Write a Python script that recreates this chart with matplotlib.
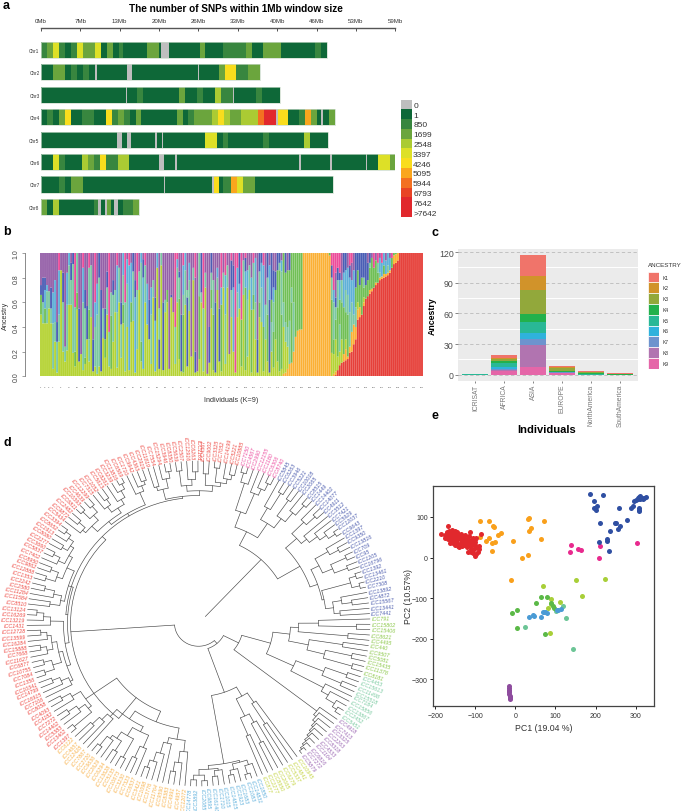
import re
import numpy as np
import matplotlib
matplotlib.use('Agg')
import matplotlib.pyplot as plt

plt.rcParams['font.family'] = ['Liberation Sans', 'DejaVu Sans']
plt.rcParams['axes.unicode_minus'] = True

W, H = 685, 812

# ---- panel a: SNP density per chromosome, runs of (colour class, length in Mb)
SNP_CLASSES = ['0', '1', '850', '1699', '2548', '3397', '4246', '5095', '5944', '6793', '7642', '>7642']
SNP_COLORS = ['#BEBEBE', '#0E6838', '#38863F', '#6BA53D', '#ABCB33', '#DDE027',
              '#F9DD1D', '#FAA61D', '#F37021', '#E84425', '#E1282D', '#E1282D']
CHR_NAMES = ['Chr1', 'Chr2', 'Chr3', 'Chr4', 'Chr5', 'Chr6', 'Chr7', 'Chr8']
MB_TICKS = [0, 6.56, 13.11, 19.67, 26.22, 32.78, 39.33, 45.89, 52.44, 59]
MB_LABELS = ['0Mb', '7Mb', '13Mb', '20Mb', '26Mb', '33Mb', '40Mb', '46Mb', '53Mb', '59Mb']

chr1 = [(2, 1), (3, 1), (5, 1), (2, 1), (1, 1), (2, 1), (5, 1), (3, 2), (5, 1), (1, 1), (3, 1), (1, 1), (2, .7),
        (1, 3.9), (3, 2), (1, .4), (0, 1.3), (1, 5.1), (3, .9), (1, 3), (2, 2), (2, 1.9), (3, .9), (1, 1.9), (3, 2.9), (1, 5.8), (2, 1), (1, 1)]
chr2 = [(1, 2), (3, 2), (1, 1), (2, 1), (1, 1), (2, 1), (1, 1), (0, .3), (1, 5), (0, .8), (1, 11.1), (0, .15), (1, 3.3),
        (3, 1), (6, 1.9), (2, 2), (3, 2)]
chr3 = [(1, 14.2), (0, .2), (1, 1.6), (2, 1), (1, 5.9), (3, 1), (1, 2), (2, 1), (1, 2), (4, 1), (2, 2), (0, .25), (1, 3.6),
        (2, 1), (1, 3)]
chr4 = [(1, 1), (2, 1), (1, 1), (3, 1), (6, 1), (1, 1.9), (2, 2), (1, 1.9), (6, 1), (2, 1), (3, 1), (2, 1), (1, 1), (3, .9),
        (1, 5.9), (3, 1), (1, .9), (2, 1), (3, 2.9), (4, 1), (6, 1), (4, 1), (3, .9), (3, 1), (4, 1), (4, 1.9), (8, 1), (10, 2),
        (0, .3), (6, 1.6), (1, 1.9), (2, 1), (7, 1), (3, 1), (1, .7), (0, .3), (1, 1), (3, 1)]
chr5 = [(1, 12.7), (0, .8), (1, .9), (0, .6), (1, 4), (0, .3), (1, .8), (0, .15), (1, 7.1), (5, 1.9), (1, 1), (2, .9),
        (1, 5.8), (2, 1), (1, 5.9), (4, .9), (1, 3.1)]
chr6 = [(1, 1.5), (1, .5), (5, 1), (2, 1), (1, 2.9), (4, 1), (3, 1), (2, 1), (6, 1), (2, 1.9), (4, 1.9), (1, 5), (0, .7),
        (1, 1.9), (0, .3), (1, 20.3), (0, .4), (1, 4.8), (0, .3), (1, 5.7), (0, .15), (1, 1.9), (5, 1.9), (3, 1.1)]
chr7 = [(1, 3), (2, 1), (1, 1), (3, 2), (1, 13.4), (0, .3), (1, 7.8), (0, .3), (6, .9), (1, .6), (2, 1.4), (7, 1), (5, 1),
        (3, 1.9), (1, 13)]
chr8 = [(3, 1), (1, 1), (4, 1), (1, 5.8), (2, .7), (0, .5), (1, .7), (0, .3), (3, .6), (1, .5), (0, .7), (1, .8), (2, 1.8), (3, 1)]
CHR_RUNS = [chr1, chr2, chr3, chr4, chr5, chr6, chr7, chr8]

# ---- panel b: ancestry per individual, letter = cluster, number = top of the segment in %
CLUSTER_COLORS = {'R': '#E6403A', 'O': '#FBB034', 'Y': '#B5D334', 'G': '#70BF55', 'T': '#7CC8A2',
                  'S': '#5FB0D8', 'N': '#4A5EB5', 'P': '#9560A8', 'M': '#EC4C9A'}
bars_mixed_a = [
    'Y50 G66 N74 P100', 'Y43 T60 N80 P100', 'Y43 G55 S70 N80 P100', 'Y43 T69 S74 P100', 'Y55 T69 P100',
    'Y43 T55 N72 P100', 'Y6 T43 S68 P100', 'Y28 T44 S78 P100', 'Y3 T28 N44 P100', 'Y28 T50 S86 M100',
    'Y86 P100', 'Y20 T60 N84 P100', 'Y12 T24 P100', 'Y21 T58 S84 P100', 'Y58 T90 S100',
    'Y58 T78 N92 P100', 'Y19 T91 N100', 'Y8 G20 T56 M100', 'Y54 G68 T100', 'Y12 N55 P100',
    'Y18 P100', 'Y5 T60 S88 M100', 'Y10 G15 T55 N70 P100', 'Y30 N57 P100', 'Y12 T30 G54 T88 M100',
    'Y48 T90 P100', 'Y4 N30 P100', 'Y8 T40 S60 M100', 'Y2 T50 S75 P100', 'Y8 T80 N100',
    'Y4 N70 P100', 'Y31 T55 P100', 'Y15 G30 N55 P100', 'Y50 T72 N85 P100', 'Y8 T36 M100',
    'Y6 G49 T68 P100', 'Y28 T66 N78 P100', 'Y52 T70 P100', 'Y7 T52 S90 M100', 'Y60 T88 P100',
    'Y15 T42 N60 P100', 'Y43 G58 T82 S100', 'Y4 T60 M100', 'Y40 T75 S95 P100', 'Y5 S90 M100',
    'Y44 G60 S92 P100', 'Y45 T85 N100', 'Y3 S64 N78 P100', 'Y22 T70 M100', 'Y70 T85 P100',
    'Y12 G28 T92 S100', 'Y6 S80 N95 P100', 'Y60 T90 M100', 'Y42 S75 P100', 'Y30 N62 P100',
    'Y10 T50 S72 P100', 'Y64 T78 P100', 'Y4 S45 N64 P100', 'Y88 S100', 'Y6 N30 T55 P100',
    'Y90 T100', 'Y5 N60 P100', 'Y52 T62 P100', 'Y60 G70 P100']
bars_mixed_b = [
    'Y6 P100', 'Y64 N66 P100', 'Y52 P100', 'Y10 T40 M100', 'Y60 T88 S95 M100',
    'Y14 G63 T80 N85 P100', 'Y4 N50 P100', 'Y3 G50 T66 S90 M100', 'Y58 T86 S100', 'Y8 N64 T70 P100',
    'Y53 T78 S92 P100', 'Y16 P100', 'Y78 T88 P100', 'Y3 N20 P80 M100', 'Y4 P100',
    'Y14 G65 T100', 'Y60 T68 N100', 'Y4 T55 M100', 'Y72 T84 P100', 'Y2 P100',
    'Y11 N40 P100', 'Y55 G70 T84 N100', 'Y5 G50 T78 P100', 'Y3 N60 P100', 'Y70 T80 S88 P100',
    'Y12 N55 P100', 'Y4 G58 S72 M100', 'Y72 T84 P100', 'Y10 T50 S82 M100', 'Y72 T90 P100',
    'Y18 P100', 'Y48 T70 N94 M100', 'Y20 S72 N90 P100', 'Y3 M100', 'Y48 T68 S88 M100',
    'Y55 S75 N100', 'Y8 G46 M100', 'Y66 T94 P100', 'Y5 G72 S85 N96 M100', 'Y16 T62 S86 P100',
    'Y70 T90 P100', 'Y3 G54 S80 P100', 'Y54 G66 T92 M100', 'Y30 T60 S96 P100', 'Y3 N30 P100',
    'Y48 G60 T85 N100', 'Y44 T72 S92 N100', 'Y4 G40 S90 M100', 'Y30 T58 P100', 'Y12 G50 T80 N100',
    'Y3 N62 S90 P100', 'Y20 T44 G62 N100', 'Y7 G36 T60 S72 N86 P100', 'Y30 G70 N85 P100', 'Y12 G86 N100',
    'Y4 G86 T92 N100', 'Y6 G50 T85 S94 P100', 'O2 Y40 T60 G100']
bars_orange = [
    'O3 Y28 T44 G84 N100', 'O6 Y24 T40 G86 P100', 'O10 T45 G86 N100', 'O11 G60 T72 G100', 'O20 T60 G100',
    'O32 G100', 'O37 G100', 'O38 G100', 'O38 G100', 'O100', 'O100', 'O100', 'O100', 'O100', 'O100', 'O100',
    'O100', 'O100', 'O100', 'O100', 'O100', 'O100', 'O98 G100', 'Y19 G62 T80 N90 M100', 'O2 Y18 G30 T60 S70 M100']
bars_red_rise = [
    'R1 O4 Y30 G46 T56 N64 P84 M100', 'R5 Y16 G56 T78 N88 M100', 'R9 Y20 T42 G62 S78 N84 M100', 'R11 Y30 G60 T78 P100', 'R12 O18 G56 S84 N100',
    'R13 O22 Y30 G52 T70 S86 N100', 'R14 O16 G50 T66 S88 P100', 'R19 O24 T52 S80 N90 M100', 'R20 O36 T60 S78 P92 M100', 'R26 O42 T50 S86 P100',
    'R30 O40 T56 G72 N100', 'R46 O54 Y60 G86 N100', 'R48 O56 G74 N100', 'R50 G80 N100', 'R57 O60 Y64 G72 T80 N100',
    'R63 G74 N100', 'R65 G78 N92 P100', 'R67 O70 G88 T92 N100', 'R69 O71 G96 P100', 'R72 G88 M100',
    'R74 O76 G94 P100', 'R76 G84 T92 M100', 'R78 O80 T84 S96 P100', 'R79 O81 S92 M100', 'R80 O83 G90 S100',
    'R81 O83 S94 P100', 'R82 O84 T90 S100', 'R84 O86 S96 P100', 'R88 G96 M100', 'R91 O98 G100', 'R92 O99 G100', 'R94 O100']
bars_red_full = ['R100'] * 12
ANCESTRY_ROWS = bars_mixed_a + bars_mixed_b + bars_orange + bars_red_rise + bars_red_full
INDIVIDUAL_IDS = [1, 3, 5, 7, 11, 15, 19, 23, 27, 31, 35, 39, 43, 47, 51, 55, 59, 63, 67, 71, 75, 79, 83, 87, 91, 95, 99, 103,
                  107, 111, 115, 119, 123, 127, 131, 135, 139, 143, 147, 151, 155, 159, 163, 167, 171, 175, 179, 183, 187, 191]

# ---- panel c: counts per region
REGIONS = ['ICRISAT', 'AFRICA', 'ASIA', 'EUROPE', 'NorthAmerica', 'SouthAmerica']
K_NAMES = ['K1', 'K2', 'K3', 'K4', 'K5', 'K6', 'K7', 'K8', 'K9']
K_COLORS = ['#F0746A', '#D1932A', '#92A83B', '#22B14C', '#29B896', '#2FB2DC', '#6D93CE', '#B174B0', '#E566A8']
k1 = [0, 3, 21, 1, 1, .6]
k2 = [0, .5, 13.6, .5, 0, 0]
k3 = [0, 2.5, 22.9, 3, 1, .5]
k4 = [0, 1.5, 8, 1, 1, .5]
k5 = [1, 4, 10.6, .5, .5, 0]
k6 = [0, 2, 6, 0, 0, 0]
k7 = [0, 1, 6, .5, 0, 0]
k8 = [0, 1, 21.2, .5, 0, 0]
k9 = [0, 3.5, 7.8, 1.5, 0, 0]
K_VALUES = [k1, k2, k3, k4, k5, k6, k7, k8, k9]

# ---- panel d: labels clockwise per group and tree as (child child)height
labels_green = ['ICC791', 'ICC15802', 'ICC15406', 'ICC8621', 'ICC4495', 'ICC440', 'ICC9507', 'ICC5081', 'ICC15435', 'ICC11378', 'ICC8181']
labels_teal = ['ICC4453', 'ICC15613', 'ICC11498', 'ICC15518', 'ICC7184', 'ICC15856', 'ICC13867', 'ICC2452', 'ICC5451']
labels_purple = ['ICC4918', 'ICC7413', 'ICC3325', 'ICC2263', 'ICC8318', 'ICC4533', 'ICC1164', 'ICC6816', 'ICC7272', 'ICC5879']
labels_yellow = ['ICC10945', 'ICC4841', 'ICC5337', 'ICC6279', 'ICC2065', 'ICC8950', 'ICC2277', 'ICC877']
labels_sky = ['ICC1850', 'ICC14831', 'ICC1083', 'ICC1683', 'ICC1923', 'ICC14815', 'ICC1015', 'ICC1710', 'ICC16140',
              'ICC9895', 'ICC2085', 'ICC3892', 'ICC14778']
labels_orange = ['ICC12072', 'ICC4957', 'ICC4991', 'ICC8383', 'ICC9590', 'ICC11764', 'ICC3776', 'ICC1098', 'ICC3421', 'ICC6537',
                 'ICC7323', 'ICC3230', 'ICC10673', 'ICC5135', 'ICC13628', 'ICC6294', 'ICC2629', 'ICC9636', 'ICC2720', 'ICC7867',
                 'ICC12428', 'ICC4657', 'ICC6122']
labels_red = ['ICC1397', 'ICC13402', 'ICC5383', 'ICC14402', 'ICC7272', 'ICC4182', 'ICC4093', 'ICC8058', 'ICC7106', 'ICC16915',
              'ICC14799', 'ICC10341', 'ICC1356', 'ICC7084', 'ICC10755', 'ICC6877', 'ICC11627', 'ICC7668', 'ICC15888', 'ICC16284',
              'ICC13599', 'ICC12728', 'ICC1431', 'ICC13219', 'ICC16269', 'ICC13124', 'ICC8510', 'ICC11584', 'ICC11284', 'ICC2580',
              'ICC2242', 'ICC1353', 'ICC12888', 'ICC9862', 'ICC8950', 'ICC7402', 'ICC5837', 'ICC3660', 'ICC2277', 'ICC8080',
              'ICC1913', 'ICC8652', 'ICC3394', 'ICC5434', 'ICC9872', 'ICC2482', 'ICC6811', 'ICC10393', 'ICC4639', 'ICC12299',
              'ICC7315', 'ICC1052', 'ICC5613', 'ICC8261', 'ICC3239', 'ICC13816', 'ICC6569', 'ICC1710', 'ICC9942', 'ICC4363',
              'ICC2919', 'ICC11819', 'ICC7554', 'ICC15294', 'ICC3946', 'ICC8350', 'ICC5639', 'ICC2507', 'ICC12916', 'ICC6263',
              'ICC1161', 'ICC4567', 'ICC9002', 'ICC3325', 'ICC7052', 'ICC14199', 'ICC5221', 'ICC10885']
labels_pink = ['ICC7150', 'ICC4567', 'ICC2990', 'ICC12155', 'ICC1180', 'ICC6306', 'ICC8740']
labels_navy = ['ICC5845', 'ICC6263', 'ICC3946', 'ICC5221', 'ICC10018', 'ICC2065', 'ICC8515', 'ICC1449', 'ICC14402', 'ICC14077',
               'ICC4911', 'ICC3512', 'ICC7421', 'ICC5929', 'ICC12037', 'ICC9643', 'ICC1397', 'ICC9350', 'ICC13816', 'ICC709',
               'ICC95', 'ICC1205', 'ICC16796', 'ICC1392', 'ICC13461', 'ICC2210', 'ICC7308', 'ICC13892', 'ICC4872', 'ICC15567',
               'ICC13441', 'ICC7441']
LEAF_GROUPS = [(labels_green, '#8CC84B'), (labels_teal, '#7CCBA2'), (labels_purple, '#9E6BB5'), (labels_yellow, '#C5D545'),
               (labels_sky, '#5FB0DC'), (labels_orange, '#F8B24C'), (labels_red, '#EE4B45'), (labels_pink, '#EC4FA0'),
               (labels_navy, '#4F5FAF')]

tree_green = '(((. (. .)158)120 (. .)150)100 ((. .)146 ((. .)157 (. .)160)130)112)92'
tree_teal = '(((. .)158 (. .)156)135 (. (. (. (. .)165)160)150)142)105'
tree_purple = '(. (. (. (. (. (. (. (. (. .)168)166)164)162)160)158)156)153)150'
tree_yellow = '((. (. .)125)100 ((. (. .)140)118 (. .)128)108)88'
tree_sky = '(((. (. .)166)157 (. (. .)163)158)152 ((. (. .)162)156 ((. .)166 (. .)165)160)154)150'
tree_orange = ('(((. (. (. .)158)148)136 (. (. (. (. .)160)152)142)130)124 (((. (. .)155)142 ((. .)160 ((. .)158 (. (. .)162)150)146)138)128 '
               '(. (. (. .)150)140)132)122)112')
tree_red_low = '(((. .)165 (. (. .)160)150)142 (. (. .)158)148)138'
tree_red_left = ('((((. (. (. .)158)150)142 (((. .)162 (. .)160)152 ((. (. .)160)154 (. (. .)158)152)148)143)139 (. (. (. .)162)155)148)135 '
                 '(((. .)150 (. (. .)158)148)140 (((. .)160 (. .)158)150 ((. (. .)162)155 ((. .)158 (. (. .)164)158)152)148)144)136)131')
tree_red_right = ('((((. (. .)160)152 ((. .)165 (. .)163)155)148 ((. (. .)160)153 (. (. (. .)166)160)152)146)140 (. (. (. .)160)156)150)136 '
                  '(((. .)150 (. (. .)163)156)146 (((. .)162 (. (. .)160)152)146 ((. .)158 ((. .)165 (. (. .)160)155)150)146)140)135)133')
tree_pink = '(((. .)165 .)155 (. (. (. .)163)155)148)125'
tree_navy_1 = '((. (. .)160)140 ((. .)158 (. (. .)163)150)138)126'
tree_navy_2 = '((. (. .)162)150 (. (. (. (. .)166)158)150)140)133'
tree_navy_3 = '((. (. .)160)150 ((. .)163 (. .)160)146)135'
tree_navy_4 = '(((. .)165 (. .)166)158 ((. (. .)155)145 (. .)142)136)128'
TREE = (f'((((((({tree_green} {tree_teal})75 {tree_purple})45 ({tree_yellow} {tree_sky})77)28 '
        f'((({tree_orange} {tree_red_low})100 ({tree_red_left} {tree_red_right})128)92)24 '
        f'((({tree_pink} {tree_navy_1})108 ({tree_navy_2} ({tree_navy_3} {tree_navy_4})126)118)92)10')

# ---- panel e: PCA points per cluster
pc_navy = [(186, 157), (195, 139), (204, 128), (196, 122), (200, 118), (218, 154), (258, 123), (212, 86), (235, 66), (249, 84),
           (251, 85), (262, 78), (256, 71), (279, 92), (288, 122), (293, 126), (297, 140), (208, 39), (229, 46), (229, 41),
           (233, 16), (308, 122), (309, 118), (309, 114), (302, 141), (306, 147), (308, 150), (311, 152), (312, 144), (315, 146),
           (318, 145), (321, 147), (325, 148), (305, 144)]
pc_pink = [(138, 32), (136, 15), (156, 21), (163, 19), (208, 0), (211, 29), (303, 36)]
pc_orange = [(-88, 90), (-66, 90), (-55, 79), (-53, 76), (-36, 60), (-44, 55), (-67, 48), (-73, 41), (-51, 39), (-59, 37), (-59, 17),
             (-89, 51), (-7, 41), (33, 97), (32, 94), (72, 91), (40, 74), (33, 65), (65, 46), (32, 7), (17, -2), (-10, -56)]
pc_yellow = [(70, -71), (151, -55), (224, -53), (166, -94), (90, -103), (110, -110), (81, -125), (86, -186), (90, -114)]
pc_green = [(65, -97), (80, -96), (51, -112), (3, -128), (-8, -136), (4, -173), (74, -188), (88, -112), (93, -118), (96, -123)]
pc_teal = [(25, -172), (144, -224), (126, -149), (118, -120), (101, -132)]
pc_sky = [(35, -145), (45, -141), (47, -144), (63, -145), (69, -135), (74, -135), (78, -136), (75, -133), (103, -129), (107, -128), (113, -126)]
pc_purple = [(-17, -315), (-16, -322), (-16, -327), (-15, -332), (-15, -336), (-14, -340), (-14, -343), (-13, -346), (-13, -348), (-15, -329)]
pc_red = [(-185, 58), (-169, 77), (-113, 63), (-87, 57), (-175, 55), (-172, 50), (-170, 60), (-168, 45), (-165, 65), (-163, 55),
          (-162, 40), (-160, 50), (-158, 67), (-157, 35), (-155, 60), (-153, 45), (-152, 30), (-150, 55), (-148, 42), (-147, 62),
          (-145, 35), (-143, 50), (-140, 27), (-138, 45), (-136, 57), (-134, 38), (-132, 50), (-130, 30), (-128, 45), (-126, 55),
          (-124, 38), (-122, 25), (-120, 47), (-118, 33), (-116, 53), (-114, 40), (-112, 15), (-110, 28), (-108, 45), (-106, 35),
          (-104, 20), (-102, 47), (-100, 30), (-98, 8), (-100, 3), (-95, 27), (-92, 28), (-90, 22), (-94, 15), (-118, 14),
          (-112, 20), (-105, 12), (-160, 62), (-156, 52), (-152, 66), (-166, 52), (-164, 36), (-158, 44), (-150, 36), (-146, 46),
          (-142, 56), (-138, 34), (-134, 28), (-130, 52), (-126, 32), (-122, 46), (-118, 42), (-114, 30), (-110, 38), (-106, 48),
          (-102, 38), (-98, 48), (-172, 62), (-176, 48), (-154, 38), (-148, 52), (-144, 28), (-128, 36)]
PC_GROUPS = [(pc_orange, '#F9A01B'), (pc_purple, '#8E4C9E'), (pc_teal, '#6CC596'), (pc_yellow, '#A8CF38'), (pc_green, '#5BB947'),
             (pc_sky, '#4A9BD5'), (pc_pink, '#E82A8E'), (pc_navy, '#2F4FA2'), (pc_red, '#E1282D')]


def px_axes(fig, x0, y0, x1, y1):
    # axes from pixel box, y measured from the top
    return fig.add_axes([x0 / W, 1 - y1 / H, (x1 - x0) / W, (y1 - y0) / H])


def panel_a(fig):
    ax = px_axes(fig, 41, 29, 395.3, 218)
    for row, runs in enumerate(CHR_RUNS):
        left = 0
        for cls, length in runs:
            ax.barh(row, length, left=left, height=0.72, color=SNP_COLORS[cls], linewidth=0)
            left += length
        ax.barh(row, left, height=0.72, fill=False, edgecolor='#CADBCB', linewidth=0.5)
    ax.set_xlim(0, 59)
    ax.set_ylim(7.45, -0.98)
    ax.xaxis.tick_top()
    ax.set_xticks(MB_TICKS)
    ax.set_xticklabels(MB_LABELS, fontsize=4.4, color='#333333')
    ax.tick_params(axis='x', direction='in', length=2, width=0.6, color='#333333', pad=3.5)
    ax.set_yticks(range(8))
    ax.set_yticklabels(CHR_NAMES, fontsize=3.4, color='#333333')
    ax.tick_params(axis='y', length=0, pad=1)
    for side in ['left', 'right', 'bottom']:
        ax.spines[side].set_visible(False)
    ax.spines['top'].set_linewidth(1.0)
    ax.spines['top'].set_color('#555555')
    ax.patch.set_alpha(0)
    fig.text(236 / W, 1 - 8.5 / H, 'The number of SNPs within 1Mb window size', fontsize=7.2, fontweight='bold',
             ha='center', va='center')

    leg = px_axes(fig, 400.7, 100.5, 412, 218)
    leg.bar([0] * 12, [1] * 12, bottom=range(12), width=1, color=SNP_COLORS, linewidth=0)
    leg.set_xlim(-0.5, 0.5)
    leg.set_ylim(12, 0)
    leg.axis('off')
    for i, name in enumerate(SNP_CLASSES):
        leg.text(0.6, i + 0.6, name, fontsize=6, color='#333333', va='center', ha='left', clip_on=False)


def panel_b(fig):
    ax = px_axes(fig, 40, 254, 423, 377.3)
    for i, row in enumerate(ANCESTRY_ROWS):
        bottom = 0
        for token in row.split():
            top = float(token[1:]) / 100
            ax.bar(i, top - bottom, bottom=bottom, width=0.93, color=CLUSTER_COLORS[token[0]], linewidth=0, snap=False)
            bottom = top
    ax.set_xlim(-0.5, len(ANCESTRY_ROWS) - 0.5)
    ax.set_ylim(0, 1)
    for side in ['top', 'right', 'bottom']:
        ax.spines[side].set_visible(False)
    ax.spines['left'].set_position(('outward', 10.5))
    ax.spines['left'].set_color('#777777')
    ax.spines['left'].set_linewidth(0.6)
    ax.set_yticks([0, 0.2, 0.4, 0.6, 0.8, 1.0])
    ax.set_yticklabels(['0.0', '0.2', '0.4', '0.6', '0.8', '1.0'], rotation=90, va='center', fontsize=5, color='#444444')
    ax.tick_params(axis='y', length=2.5, width=0.5, color='#777777', pad=1.5)
    ax.set_xticks([v - 1 for v in INDIVIDUAL_IDS])
    ax.set_xticklabels(INDIVIDUAL_IDS, fontsize=1.7, color='#444444')
    ax.tick_params(axis='x', length=0, pad=7)
    ax.set_xlabel('Individuals (K=9)', fontsize=5.2, color='#333333', labelpad=6.5)
    ax.set_ylabel('Ancestry', fontsize=5.2, color='#333333', labelpad=2.5)


def panel_c(fig):
    ax = px_axes(fig, 458, 250, 637.7, 381.7)
    ax.set_facecolor('#EBEBEB')
    x = np.arange(len(REGIONS))
    ax.hlines([15, 45, 75, 105], -0.6, 5.6, color='white', linewidth=0.7, zorder=1)
    ax.hlines([0, 30, 60, 90, 120], -0.6, 5.6, color='#BBBBBB', linewidth=0.6, linestyles=(0, (4, 3)), zorder=1)
    bottom = np.zeros(len(REGIONS))
    for vals, color in zip(K_VALUES[::-1], K_COLORS[::-1]):
        ax.bar(x, vals, bottom=bottom, width=0.9, color=color, edgecolor='none', zorder=2)
        bottom += np.array(vals)
    ax.set_xlim(-0.6, 5.6)
    ax.set_ylim(-5.9, 123)
    ax.set_yticks([0, 30, 60, 90, 120])
    ax.tick_params(axis='y', length=2, width=0.5, labelsize=6.3, labelcolor='#4D4D4D', color='#555555', pad=1)
    ax.set_xticks(x)
    ax.set_xticklabels(REGIONS, rotation=90, fontsize=4.9, color='#777777')
    ax.tick_params(axis='x', length=1.5, width=0.5, color='#555555', pad=0.5)
    for side in ax.spines.values():
        side.set_visible(False)
    ax.set_ylabel('Ancestry', fontsize=6.3, fontweight='bold', labelpad=1.5)
    fig.text(547 / W, 1 - 430.5 / H, 'Individuals', fontsize=8, fontweight='bold', ha='center', va='center')

    leg = px_axes(fig, 648.3, 272.7, 659, 369.7)
    leg.bar([0] * 9, [1] * 9, bottom=range(9), width=1, color=K_COLORS, edgecolor='white', linewidth=0.5)
    leg.set_xlim(-0.5, 0.5)
    leg.set_ylim(9, 0)
    leg.axis('off')
    for i, name in enumerate(K_NAMES):
        leg.text(0.8, i + 0.5, name, fontsize=3.6, va='center', ha='left', color='#333333', clip_on=False)
    leg.text(-0.5, -0.7, 'ANCESTRY', fontsize=4.5, va='center', ha='left', color='#333333', clip_on=False)


def panel_d(fig):
    ax = fig.add_axes([0, 0, 1, 1])
    ax.set_xlim(0, W)
    ax.set_ylim(H, 0)
    ax.axis('off')
    cx, cy, squash, tip = 198.5, 624.5, 0.948, 171.5
    names, colors = [], []
    for group, color in LEAF_GROUPS:
        names += group
        colors += [color] * len(group)
    step = 360 / len(names)
    start = -1.6

    def xy(radius, angle):
        a = np.radians(angle)
        return cx + radius * np.cos(a), cy + radius * np.sin(a) * squash

    segments = []
    stack = []
    leaf = 0
    for tok in re.findall(r'\(|\)\d+|\.', TREE):
        if tok == '(':
            stack.append([])
        elif tok == '.':
            stack[-1].append((start + leaf * step, tip))
            leaf += 1
        else:
            height = float(tok[1:])
            kids = stack.pop()
            angles = np.linspace(kids[0][0], kids[-1][0], 24)
            segments.append(np.column_stack(xy(height, angles)))
            for angle, radius in kids:
                segments.append(np.column_stack(xy(np.array([height, radius]), angle)))
            node = ((kids[0][0] + kids[-1][0]) / 2, height)
            if stack:
                stack[-1].append(node)
    for seg in segments:
        ax.plot(seg[:, 0], seg[:, 1], color='#444444', linewidth=0.45, solid_capstyle='round')

    for i, (name, color) in enumerate(zip(names, colors)):
        angle = start + i * step
        x, y = xy(tip + 1.5, angle)
        flip = 90 < (angle % 360) < 270
        ax.text(x, y, name, fontsize=3.9, style='italic', color=color, rotation=(180 - angle) if flip else -angle,
                rotation_mode='anchor', ha='right' if flip else 'left', va='center')


def panel_e(fig):
    ax = px_axes(fig, 433.3, 486.7, 654.3, 707.3)
    for points, color in PC_GROUPS:
        pts = np.array(points)
        ax.scatter(pts[:, 0], pts[:, 1], s=13, color=color, linewidths=0, zorder=3)
    ax.set_xlim(-205, 346.6)
    ax.set_ylim(-366, 177)
    ax.set_xticks([-200, -100, 0, 100, 200, 300])
    ax.set_yticks([-300, -200, -100, 0, 100])
    ax.tick_params(length=2.5, width=0.6, labelsize=5, labelcolor='#333333', pad=1.5)
    for side in ax.spines.values():
        side.set_color('#444444')
        side.set_linewidth(0.9)
    ax.set_xlabel('PC1 (19.04 %)', fontsize=6.3, color='#333333', labelpad=3)
    ax.set_ylabel('PC2 (10.57%)', fontsize=6.3, color='#333333', labelpad=-1)


def main():
    fig = plt.figure(figsize=(W / 100, H / 100), dpi=100, facecolor='white')
    panel_d(fig)
    panel_a(fig)
    panel_b(fig)
    panel_c(fig)
    panel_e(fig)
    for letter, x, y in [('a', 3, 6), ('b', 3, 232), ('c', 431, 233), ('d', 3, 443), ('e', 431, 416)]:
        fig.text(x / W, 1 - y / H, letter, fontsize=9, fontweight='bold', ha='left', va='center')
    fig.savefig('out.png', dpi=100)


if __name__ == '__main__':
    main()
